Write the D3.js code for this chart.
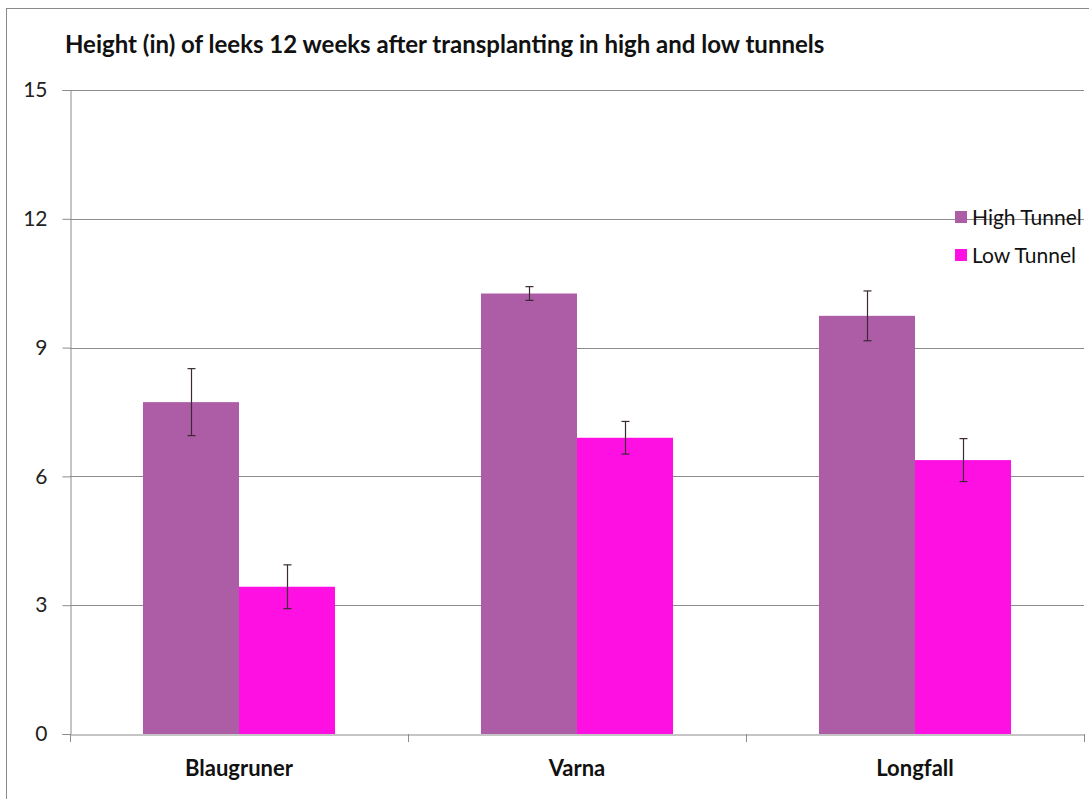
<!DOCTYPE html>
<html><head><meta charset="utf-8">
<script src="https://cdn.jsdelivr.net/npm/d3@7"></script>
<style>html,body{margin:0;padding:0;background:#fff;}svg{display:block;}</style>
</head><body>
<svg id="chart" width="1089" height="799"></svg>
<script>
const categories = ["Blaugruner", "Varna", "Longfall"];
const seriesNames = ["High Tunnel", "Low Tunnel"];
const highValues = [7.73, 10.26, 9.74];
const lowValues = [3.43, 6.90, 6.38];
const highErrors = [0.78, 0.16, 0.58];
const lowErrors = [0.51, 0.38, 0.50];
const yTicks = [0, 3, 6, 9, 12, 15];
const colors = ["#AD5DA6", "#FF10E2"];
const title = "Height (in) of leeks 12 weeks after transplanting in high and low tunnels";

(function () {
const svg = d3.select("#chart");
const font = "Lato, 'Open Sans', sans-serif";

// outer border
svg.append("rect").attr("x", 6.5).attr("y", 8.5).attr("width", 1100).attr("height", 820)
  .attr("fill", "none").attr("stroke", "#8a8a8a").attr("stroke-width", 1);

const mLeft = 70, mRight = 1084, mTop = 90, mBottom = 734;
const x = d3.scaleBand().domain(categories).range([mLeft, mRight]).paddingInner(0).paddingOuter(0);
const inner = d3.scaleBand().domain(seriesNames).range([0, x.bandwidth()]).paddingOuter(0.76).paddingInner(0);
const y = d3.scaleLinear().domain([0, 15]).range([mBottom, mTop]);

// gridlines
svg.append("g").selectAll("line").data(yTicks.filter(d => d > 0)).join("line")
  .attr("x1", mLeft).attr("x2", mRight)
  .attr("y1", d => Math.round(y(d)) + 0.5).attr("y2", d => Math.round(y(d)) + 0.5)
  .attr("stroke", "#8c8c8c").attr("stroke-width", 1);

// y axis
const yAxis = svg.append("g").attr("transform", `translate(${mLeft + 0.5},0)`)
  .call(d3.axisLeft(y).tickValues(yTicks).tickSize(8).tickPadding(15).tickFormat(d3.format("d")));
yAxis.select(".domain").attr("stroke", "#8c8c8c");
yAxis.selectAll(".tick line").attr("stroke", "#8c8c8c");
yAxis.selectAll(".tick text").attr("font-family", font).attr("font-size", 21).attr("fill", "#222");

// x axis
const xAxis = svg.append("g").attr("transform", `translate(0,${mBottom + 0.5})`)
  .call(d3.axisBottom(x).tickSize(0).tickPadding(26));
xAxis.select(".domain").attr("stroke", "#8c8c8c");
xAxis.selectAll(".tick text").attr("font-family", font).attr("font-size", 22)
  .attr("font-weight", "bold").attr("fill", "#111");
const bounds = categories.map(c => x(c)).concat([x(categories[categories.length - 1]) + x.bandwidth()]);
svg.append("g").selectAll("line").data(bounds).join("line")
  .attr("x1", d => Math.round(d) + 0.5).attr("x2", d => Math.round(d) + 0.5)
  .attr("y1", mBottom).attr("y2", mBottom + 8)
  .attr("stroke", "#8c8c8c");

// bars
const series = [highValues, lowValues];
const errs = [highErrors, lowErrors];
seriesNames.forEach((s, si) => {
  const g = svg.append("g");
  g.selectAll("rect").data(categories).join("rect")
    .attr("x", c => x(c) + inner(s))
    .attr("width", inner.bandwidth())
    .attr("y", (c, i) => y(series[si][i]))
    .attr("height", (c, i) => y(0) - y(series[si][i]))
    .attr("fill", colors[si]);
});
seriesNames.forEach((s, si) => {
  const eg = svg.append("g").attr("stroke", "#3a2a35").attr("stroke-width", 1.2);
  categories.forEach((c, i) => {
    const cx = Math.round(x(c) + inner(s) + inner.bandwidth() / 2) + 0.5;
    const hi = y(series[si][i] + errs[si][i]), lo = y(series[si][i] - errs[si][i]);
    eg.append("line").attr("x1", cx).attr("x2", cx).attr("y1", hi).attr("y2", lo);
    eg.append("line").attr("x1", cx - 4).attr("x2", cx + 4).attr("y1", hi).attr("y2", hi);
    eg.append("line").attr("x1", cx - 4).attr("x2", cx + 4).attr("y1", lo).attr("y2", lo);
  });
});

// legend
const legend = svg.append("g").attr("transform", "translate(955,0)");
seriesNames.forEach((s, i) => {
  const yy = 217 + i * 38;
  legend.append("rect").attr("x", 0).attr("y", yy - 6).attr("width", 12).attr("height", 12).attr("fill", colors[i]);
  legend.append("text").attr("x", 17).attr("y", yy + 8).text(s)
    .attr("font-family", font).attr("font-size", 21).attr("fill", "#111");
});

// title
svg.append("text").attr("x", 65).attr("y", 53).text(title)
  .attr("font-family", font).attr("font-size", 24).attr("font-weight", "bold").attr("fill", "#111");
})();
</script>
</body></html>
